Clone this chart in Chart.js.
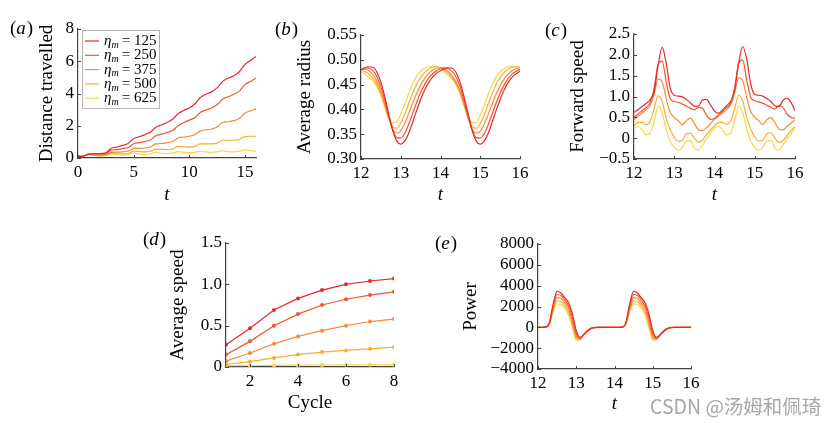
<!DOCTYPE html>
<html><head><meta charset="utf-8">
<script src="https://cdn.jsdelivr.net/npm/chart.js@4.4.1/dist/chart.umd.min.js"></script>
<style>
html,body{margin:0;padding:0;background:#fff;}
#wrap{position:relative;width:837px;height:423px;overflow:hidden;background:#fff;}
canvas{position:absolute;}
#wm{position:absolute;left:650px;top:391px;font:19.5px "Noto Sans CJK SC",sans-serif;color:#a6a6a6;white-space:nowrap;}
</style></head><body>
<div id="wrap">
<canvas id="ca"></canvas><canvas id="cb"></canvas><canvas id="cc"></canvas><canvas id="cd"></canvas><canvas id="ce"></canvas>
<div id="wm">CSDN @汤姆和佩琦</div>
</div>
<script>
// ---------- DATA ----------
const etaValues = ['125','250','375','500','625'];

// (a) distance travelled
const tDist = [0,0.5,1,1.5,2,2.5,3,3.5,4,4.5,5,5.5,6,6.5,7,7.5,8,8.5,9,9.5,10,10.5,11,11.5,12,12.5,13,13.5,14,14.5,15,15.5,16];
const dist125 = [0.1,0.12,0.25,0.27,0.28,0.32,0.6,0.68,0.78,0.9,1.2,1.32,1.45,1.6,1.9,2.05,2.2,2.4,2.75,2.95,3.1,3.35,3.75,3.95,4.1,4.35,4.75,4.95,5.1,5.35,5.8,6.05,6.3];
const dist250 = [0.1,0.12,0.25,0.25,0.25,0.28,0.48,0.52,0.58,0.65,0.88,0.95,1.02,1.12,1.38,1.48,1.58,1.7,2.0,2.2,2.35,2.5,2.82,2.98,3.1,3.3,3.65,3.8,3.95,4.15,4.55,4.75,4.95];
const dist375 = [0.1,0.12,0.22,0.2,0.2,0.22,0.35,0.36,0.38,0.42,0.58,0.6,0.62,0.68,0.88,0.9,0.95,1.02,1.25,1.3,1.35,1.45,1.68,1.75,1.8,1.92,2.2,2.25,2.32,2.45,2.78,2.92,3.05];
const dist500 = [0.1,0.12,0.22,0.18,0.15,0.18,0.3,0.27,0.25,0.28,0.42,0.4,0.38,0.42,0.55,0.53,0.52,0.56,0.72,0.7,0.68,0.72,0.88,0.88,0.88,0.92,1.1,1.1,1.1,1.15,1.33,1.35,1.35];
const dist625 = [0.1,0.12,0.22,0.15,0.12,0.15,0.25,0.2,0.18,0.2,0.3,0.25,0.22,0.25,0.35,0.3,0.27,0.3,0.4,0.35,0.32,0.35,0.42,0.38,0.35,0.38,0.45,0.4,0.38,0.42,0.5,0.45,0.42];
const distTicksX = [0,5,10,15];
const distTicksY = [0,2,4,6,8];

// shared time axis for (b), (c), (e)
const tLate = [12.0,12.1,12.2,12.3,12.4,12.5,12.6,12.7,12.8,12.9,13.0,13.1,13.2,13.3,13.4,13.5,13.6,13.7,13.8,13.9,14.0,14.1,14.2,14.3,14.4,14.5,14.6,14.7,14.8,14.9,15.0,15.1,15.2,15.3,15.4,15.5,15.6,15.7,15.8,15.9,16.0];
const tLateTicks = [12,13,14,15,16];

// (b) average radius
const radius125 = [0.479,0.484,0.486,0.485,0.475,0.455,0.425,0.39,0.357,0.336,0.330,0.336,0.352,0.374,0.398,0.42,0.439,0.454,0.465,0.473,0.478,0.482,0.484,0.483,0.473,0.453,0.423,0.39,0.357,0.336,0.330,0.336,0.352,0.374,0.398,0.42,0.439,0.454,0.465,0.472,0.477];
const radius250 = [0.480,0.484,0.483,0.478,0.466,0.446,0.418,0.386,0.358,0.343,0.342,0.352,0.37,0.392,0.414,0.434,0.45,0.463,0.472,0.478,0.482,0.484,0.482,0.476,0.464,0.444,0.416,0.385,0.357,0.343,0.342,0.351,0.369,0.391,0.413,0.433,0.449,0.462,0.471,0.477,0.481];
const radius375 = [0.480,0.481,0.478,0.470,0.457,0.437,0.41,0.382,0.36,0.352,0.357,0.372,0.392,0.413,0.432,0.449,0.462,0.472,0.479,0.483,0.484,0.482,0.476,0.467,0.454,0.435,0.408,0.381,0.36,0.352,0.356,0.37,0.39,0.411,0.431,0.448,0.461,0.471,0.478,0.482,0.484];
const radius500 = [0.478,0.476,0.471,0.463,0.45,0.432,0.407,0.382,0.365,0.362,0.372,0.39,0.412,0.433,0.45,0.464,0.474,0.481,0.485,0.486,0.484,0.479,0.472,0.463,0.45,0.432,0.407,0.382,0.365,0.362,0.371,0.389,0.411,0.432,0.45,0.464,0.474,0.481,0.485,0.486,0.485];
const radius625 = [0.476,0.471,0.465,0.457,0.445,0.428,0.405,0.384,0.373,0.375,0.39,0.41,0.432,0.452,0.467,0.477,0.483,0.486,0.487,0.486,0.483,0.476,0.468,0.46,0.448,0.43,0.407,0.385,0.373,0.374,0.388,0.408,0.43,0.45,0.466,0.476,0.482,0.486,0.487,0.486,0.485];
const radiusTicksY = [0.30,0.35,0.40,0.45,0.50,0.55];

// (c) forward speed
const speed125 = [0.62,0.68,0.76,0.83,0.92,1.12,1.75,2.18,1.8,1.2,1.03,1.01,0.99,0.93,0.85,0.77,0.77,0.92,0.93,0.8,0.65,0.6,0.68,0.78,0.88,1.15,1.8,2.2,1.9,1.3,1.05,1.03,1.01,0.95,0.88,0.78,0.76,0.9,0.96,0.86,0.66];
const speed250 = [0.5,0.58,0.66,0.73,0.85,1.2,1.78,1.85,1.35,0.95,0.88,0.86,0.82,0.77,0.72,0.68,0.74,0.72,0.55,0.45,0.48,0.56,0.65,0.74,0.84,1.2,1.8,1.88,1.4,0.98,0.9,0.87,0.84,0.79,0.74,0.7,0.78,0.74,0.58,0.5,0.48];
const speed375 = [0.45,0.52,0.6,0.68,0.78,1.05,1.42,1.35,0.95,0.62,0.5,0.42,0.32,0.42,0.48,0.35,0.2,0.18,0.25,0.35,0.45,0.53,0.61,0.69,0.8,1.08,1.45,1.38,0.98,0.64,0.5,0.42,0.33,0.44,0.5,0.37,0.22,0.2,0.28,0.36,0.44];
const speed500 = [0.3,0.38,0.38,0.32,0.4,0.7,1.02,0.88,0.48,0.2,0.02,-0.08,-0.05,0.1,0.12,0.0,-0.1,-0.05,0.08,0.2,0.3,0.38,0.38,0.33,0.42,0.7,1.03,0.9,0.5,0.22,0.03,-0.07,-0.05,0.1,0.13,0.0,-0.1,-0.06,0.06,0.18,0.28];
const speed625 = [0.25,0.28,0.2,0.08,0.12,0.4,0.77,0.6,0.2,-0.08,-0.22,-0.29,-0.22,-0.07,-0.06,-0.24,-0.28,-0.17,-0.02,0.12,0.25,0.28,0.2,0.08,0.12,0.4,0.77,0.62,0.22,-0.06,-0.22,-0.29,-0.22,-0.07,-0.06,-0.23,-0.28,-0.17,-0.03,0.1,0.24];
const speedTicksY = [-0.5,0,0.5,1.0,1.5,2.0,2.5];

// (d) average speed per cycle
const cycles = [1,2,3,4,5,6,7,8];
const avg125 = [0.27,0.47,0.69,0.83,0.93,1.0,1.04,1.07];
const avg250 = [0.15,0.31,0.5,0.64,0.75,0.82,0.87,0.91];
const avg375 = [0.07,0.17,0.28,0.37,0.44,0.5,0.55,0.58];
const avg500 = [0.03,0.065,0.11,0.15,0.18,0.2,0.22,0.24];
const avg625 = [0.015,0.018,0.02,0.022,0.024,0.026,0.027,0.028];
const cycleTicksX = [2,4,6,8];
const avgTicksY = [0,0.5,1.0,1.5];

// (e) power
const power125 = [0,0,20,500,2300,3450,3300,2850,2350,1300,-300,-950,-700,-350,-100,-20,0,0,0,0,0,0,20,500,2300,3450,3300,2850,2350,1300,-300,-950,-700,-350,-100,-20,0,0,0,0,0];
const power250 = [0,0,18,450,2100,3150,3050,2600,2050,900,-600,-1050,-700,-320,-90,-15,0,0,0,0,0,0,18,450,2100,3150,3050,2600,2050,900,-600,-1050,-700,-320,-90,-15,0,0,0,0,0];
const power375 = [0,0,16,400,1900,2850,2750,2350,1750,550,-850,-1100,-680,-300,-80,-10,0,0,0,0,0,0,16,400,1900,2850,2750,2350,1750,550,-850,-1100,-680,-300,-80,-10,0,0,0,0,0];
const power500 = [0,0,14,350,1700,2550,2450,2100,1450,250,-1050,-1150,-650,-280,-70,-10,0,0,0,0,0,0,14,350,1700,2550,2450,2100,1450,250,-1050,-1150,-650,-280,-70,-10,0,0,0,0,0];
const power625 = [0,0,12,300,1500,2250,2200,1850,1150,-50,-1250,-1150,-620,-260,-60,-10,0,0,0,0,0,0,12,300,1500,2250,2200,1850,1150,-50,-1250,-1150,-620,-260,-60,-10,0,0,0,0,0];
const powerTicksY = [-4000,-2000,0,2000,4000,6000,8000];

// ---------- STYLE ----------
const COLORS = ['#e8282e','#f2542c','#f68a3b','#faad2d','#fcd447'];
const FONT = '"Liberation Serif","Times New Roman",serif';
const TICK = 17, TITLE = 19, LH = 1.2;
const AXIS = '#444';
const minus = s => s.replace('-', '\u2212');

function pts(xs, ys){ return xs.map((x,i)=>({x:x, y:ys[i]})); }
function sets(xs, list, extra){
  return list.map((ys,i)=>Object.assign({
    label: '\u03b7m = ' + etaValues[i], data: pts(xs, ys),
    borderColor: COLORS[i], backgroundColor: COLORS[i],
    borderWidth: 1.2, pointRadius: 0, cubicInterpolationMode: 'monotone', fill:false
  }, extra||{}));
}

function drawPanelLabel(ctx, letter, x, y){
  ctx.save(); ctx.fillStyle='#000'; ctx.textBaseline='middle'; ctx.textAlign='left';
  ctx.font = TITLE+'px '+FONT; ctx.fillText('(', x, y); let w = ctx.measureText('(').width;
  ctx.font = 'italic '+TITLE+'px '+FONT; ctx.fillText(letter, x+w, y); w += ctx.measureText(letter).width + 1;
  ctx.font = TITLE+'px '+FONT; ctx.fillText(')', x+w, y);
  ctx.restore();
}

function drawLegend(ctx, x0, y0, w, h){
  ctx.save();
  ctx.fillStyle='#fff'; ctx.fillRect(x0, y0, w, h);
  ctx.strokeStyle='#b5b5b5'; ctx.lineWidth=1; ctx.strokeRect(x0+0.5, y0+0.5, w, h);
  for(let i=0;i<etaValues.length;i++){
    const y = y0 + 11 + i*14.3;
    ctx.strokeStyle = COLORS[i]; ctx.lineWidth = 1.2;
    ctx.beginPath(); ctx.moveTo(x0+3, y); ctx.lineTo(x0+17, y); ctx.stroke();
    ctx.fillStyle='#000'; ctx.textBaseline='middle'; ctx.textAlign='left';
    let x = x0 + 22;
    ctx.font = 'italic 15px '+FONT; ctx.fillText('\u03b7', x, y); x += ctx.measureText('\u03b7').width;
    ctx.font = 'italic 10px '+FONT; ctx.fillText('m', x, y+4); x += ctx.measureText('m').width + 3;
    ctx.font = '15px '+FONT; ctx.fillText('=', x, y); x += ctx.measureText('=').width + 4;
    ctx.fillText(etaValues[i], x, y);
  }
  ctx.restore();
}

function panel(id, box, plot, t, xs, ys, datasets, label, labelPos, legend){
  const cv = document.getElementById(id);
  cv.width = box.w; cv.height = box.h; cv.style.left = box.x+'px'; cv.style.top = box.y+'px';
  const half = TITLE*LH/2;
  const padL = t.yx - half - box.x;
  const yW = plot.L - box.x - padL;
  const padT = plot.T - box.y;
  const padR = box.x + box.w - plot.R;
  const xH = t.xy + half - plot.B;
  const padB = box.y + box.h - plot.B - xH;
  const deco = {
    id: 'deco'+id,
    afterDraw(chart){
      const ctx = chart.ctx, a = chart.chartArea, sx = chart.scales.x, sy = chart.scales.y;
      ctx.save(); ctx.strokeStyle = AXIS; ctx.lineWidth = 1;
      xs.ticks.forEach(v=>{ const p = Math.round(sx.getPixelForValue(v))+0.5; ctx.beginPath(); ctx.moveTo(p, a.bottom); ctx.lineTo(p, a.bottom-3); ctx.stroke(); });
      ys.ticks.forEach(v=>{ const p = Math.round(sy.getPixelForValue(v))+0.5; ctx.beginPath(); ctx.moveTo(a.left, p); ctx.lineTo(a.left+3, p); ctx.stroke(); });
      ctx.restore();
      drawPanelLabel(ctx, label, labelPos[0]-box.x, labelPos[1]-box.y);
      if (legend) drawLegend(ctx, legend[0]-box.x, legend[1]-box.y, legend[2], legend[3]);
    }
  };
  const axisCommon = (spec, isX) => ({
    type:'linear', min: spec.min, max: spec.max,
    afterBuildTicks: s => { s.ticks = spec.ticks.map(v=>({value:v})); },
    afterFit: s => { if (isX) s.height = xH; else s.width = yW; },
    grid: { display:false, drawTicks:false },
    border: { display:true, color: AXIS, width: 1.2 },
    ticks: { padding: 4, font:{family:FONT, size:TICK}, color:'#000', callback: spec.fmt, maxRotation:0, autoSkip:false },
    title: { display:true, text: isX ? t.x : t.y, color:'#000', padding:0,
             font:{family:FONT, size:TITLE, style: (isX && t.xItalic) ? 'italic' : 'normal'} }
  });
  return new Chart(cv, {
    type:'line',
    data:{ datasets: datasets },
    options:{
      responsive:false, animation:false, devicePixelRatio:1,
      layout:{ autoPadding:false, padding:{left:padL, top:padT, right:padR, bottom:padB} },
      plugins:{ legend:{display:false}, tooltip:{enabled:false} },
      scales:{ x: axisCommon(xs, true), y: axisCommon(ys, false) }
    },
    plugins:[deco]
  });
}

const fmtInt = v => minus(String(v));
const fmt1 = v => v === 0 ? '0' : minus(v.toFixed(1));
const fmt2 = v => v.toFixed(2);

panel('ca', {x:0,y:0,w:270,h:215}, {L:78,T:29,R:256,B:158},
  {x:'t', xItalic:true, y:'Distance travelled', yx:47, xy:195},
  {min:0,max:16,ticks:distTicksX,fmt:fmtInt}, {min:0,max:8,ticks:distTicksY,fmt:fmtInt},
  sets(tDist, [dist125,dist250,dist375,dist500,dist625]), 'a', [10,29], [82,30,77,78]);

panel('cb', {x:270,y:0,w:270,h:215}, {L:361,T:35,R:520,B:159},
  {x:'t', xItalic:true, y:'Average radius', yx:305, xy:195},
  {min:12,max:16,ticks:tLateTicks,fmt:fmtInt}, {min:0.30,max:0.55,ticks:radiusTicksY,fmt:fmt2},
  sets(tLate, [radius125,radius250,radius375,radius500,radius625]), 'b', [275,30]);

panel('cc', {x:540,y:0,w:297,h:215}, {L:634,T:34,R:795,B:159},
  {x:'t', xItalic:true, y:'Forward speed', yx:578, xy:195},
  {min:12,max:16,ticks:tLateTicks,fmt:fmtInt}, {min:-0.5,max:2.5,ticks:speedTicksY,fmt:fmt1},
  sets(tLate, [speed125,speed250,speed375,speed500,speed625]), 'c', [545,31]);

panel('cd', {x:135,y:215,w:280,h:208}, {L:226,T:243,R:394,B:367},
  {x:'Cycle', xItalic:false, y:'Average speed', yx:178.5, xy:403},
  {min:1,max:8,ticks:cycleTicksX,fmt:fmtInt}, {min:0,max:1.5,ticks:avgTicksY,fmt:fmt1},
  sets(cycles, [avg125,avg250,avg375,avg500,avg625], {pointRadius:2, pointBorderWidth:0, cubicInterpolationMode:'default', tension:0}), 'd', [143,240]);

panel('ce', {x:420,y:215,w:417,h:208}, {L:538,T:244,R:691,B:369},
  {x:'t', xItalic:true, y:'Power', yx:471, xy:404},
  {min:12,max:16,ticks:tLateTicks,fmt:fmtInt}, {min:-4000,max:8000,ticks:powerTicksY,fmt:fmtInt},
  sets(tLate, [power125,power250,power375,power500,power625]), 'e', [435,244]);
</script>
</body></html>
